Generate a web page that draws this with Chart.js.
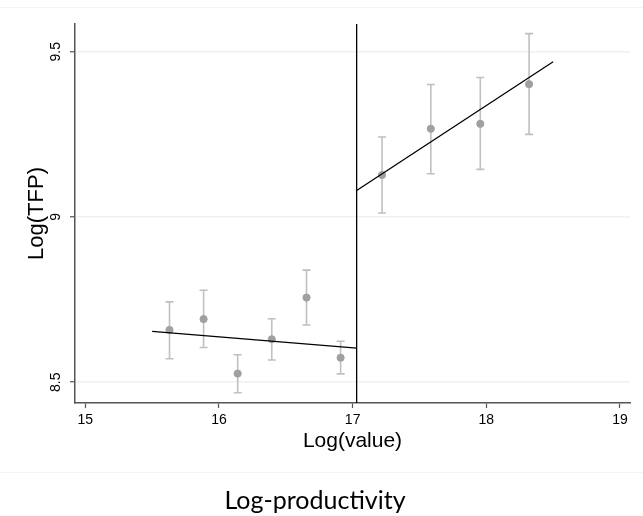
<!DOCTYPE html>
<html>
<head>
<meta charset="utf-8">
<script src="https://cdn.jsdelivr.net/npm/chart.js@4.4.0/dist/chart.umd.min.js"></script>
<style>
  html, body { margin: 0; padding: 0; background: #fff; }
  #wrap { width: 643px; height: 516px; }
</style>
</head>
<body>
<div id="wrap"><canvas id="rd"></canvas></div>
<script>
document.addEventListener('DOMContentLoaded', function(){

  // binned means with 95% intervals
  const binX  = [15.63, 15.885, 16.14, 16.395, 16.655, 16.91, 17.22, 17.585, 17.955, 18.32];
  const binY  = [8.658, 8.691, 8.526, 8.630, 8.756, 8.574, 9.127, 9.267, 9.282, 9.402];
  const binLo = [8.571, 8.605, 8.468, 8.567, 8.673, 8.525, 9.012, 9.131, 9.144, 9.250];
  const binHi = [8.743, 8.778, 8.583, 8.692, 8.839, 8.624, 9.242, 9.401, 9.422, 9.555];

  // linear fits each side of the cutoff
  const cutoff = 17.03;
  const fitLeftX  = [15.50, 17.03];
  const fitLeftY  = [8.654, 8.603];
  const fitRightX = [17.03, 18.50];
  const fitRightY = [9.080, 9.470];

  const xTicks = [15, 16, 17, 18, 19];
  const yTicks = [8.5, 9, 9.5];
  const xMin = 14.923, xMax = 19.075;
  const yMin = 8.437, yMax = 9.584;

  const pts = binX.map((x, i) => ({x: x, y: binY[i]}));
  const line = (xs, ys) => xs.map((x, i) => ({x: x, y: ys[i]}));

  // error bars + rotated y labels
  const extras = {
    id: 'extras',
    beforeDatasetsDraw(chart){
      const ctx = chart.ctx, xs = chart.scales.x, ys = chart.scales.y;
      ctx.save();
      ctx.strokeStyle = '#c0c0c0';
      ctx.lineWidth = 1.6;
      binX.forEach((x, i) => {
        const px = xs.getPixelForValue(x);
        const top = ys.getPixelForValue(binHi[i]);
        const bot = ys.getPixelForValue(binLo[i]);
        ctx.beginPath();
        ctx.moveTo(px, top); ctx.lineTo(px, bot);
        ctx.moveTo(px - 4, top); ctx.lineTo(px + 4, top);
        ctx.moveTo(px - 4, bot); ctx.lineTo(px + 4, bot);
        ctx.stroke();
      });
      ctx.restore();
    },
    afterDraw(chart){
      const ctx = chart.ctx, ys = chart.scales.y;
      ctx.save();
      ctx.fillStyle = '#000';
      ctx.font = '14px "Liberation Sans", Arial, sans-serif';
      ctx.textAlign = 'center';
      ctx.textBaseline = 'middle';
      yTicks.forEach(v => {
        const py = ys.getPixelForValue(v);
        ctx.save();
        ctx.translate(56, py);
        ctx.rotate(-Math.PI / 2);
        ctx.fillText(String(v), 0, 0);
        ctx.restore();
      });
      // faint frame lines of the graph region
      ctx.strokeStyle = '#f2f4f4';
      ctx.lineWidth = 1;
      ctx.beginPath();
      ctx.moveTo(0, 7.5); ctx.lineTo(643, 7.5);
      ctx.moveTo(0, 472.5); ctx.lineTo(643, 472.5);
      ctx.stroke();
      ctx.restore();
    }
  };

  const config = {
    type: 'scatter',
    data: {
      datasets: [
        {
          label: 'bins',
          data: pts,
          backgroundColor: '#a0a0a0',
          borderColor: '#a0a0a0',
          pointRadius: 3.6,
          order: 1
        },
        {
          label: 'fit left',
          type: 'line',
          data: line(fitLeftX, fitLeftY),
          borderColor: '#000',
          borderWidth: 1.3,
          pointRadius: 0,
          fill: false,
          order: 0
        },
        {
          label: 'fit right',
          type: 'line',
          data: line(fitRightX, fitRightY),
          borderColor: '#000',
          borderWidth: 1.3,
          pointRadius: 0,
          fill: false,
          order: 0
        },
        {
          label: 'cutoff',
          type: 'line',
          data: [{x: cutoff, y: yMin}, {x: cutoff, y: yMax}],
          borderColor: '#000',
          borderWidth: 1.3,
          pointRadius: 0,
          fill: false,
          order: 0
        }
      ]
    },
    options: {
      responsive: true,
      maintainAspectRatio: false,
      animation: false,
      layout: { padding: { top: 24, right: 13, left: 0, bottom: 0 } },
      plugins: {
        legend: { display: false },
        tooltip: { enabled: false },
        title: {
          display: true,
          position: 'bottom',
          text: 'Log-productivity',
          color: '#000',
          font: { family: 'Lato, "Open Sans", sans-serif', size: 25, weight: 'normal' },
          padding: { top: 21, bottom: 0 }
        }
      },
      scales: {
        x: {
          type: 'linear',
          min: xMin,
          max: xMax,
          afterBuildTicks: s => { s.ticks = xTicks.map(v => ({value: v})); },
          afterFit: s => { s.height = 62; },
          grid: { display: true, drawOnChartArea: false, color: '#555', tickLength: 5, tickWidth: 1.2 },
          border: { color: '#555', width: 1.5 },
          ticks: {
            color: '#000',
            padding: 4,
            maxRotation: 0,
            font: { family: '"Liberation Sans", Arial, sans-serif', size: 14 }
          },
          title: {
            display: true,
            text: 'Log(value)',
            color: '#000',
            font: { family: '"Liberation Sans", Arial, sans-serif', size: 21 },
            padding: { top: 0, bottom: 11 }
          }
        },
        y: {
          type: 'linear',
          min: yMin,
          max: yMax,
          afterBuildTicks: s => { s.ticks = yTicks.map(v => ({value: v})); },
          afterFit: s => { s.width = 75; },
          grid: { color: '#edf2f2', lineWidth: 1.5, tickColor: '#555', tickLength: 5, tickWidth: 1.2 },
          border: { color: '#555', width: 1.5 },
          ticks: {
            color: 'rgba(0,0,0,0)',
            font: { family: '"Liberation Sans", Arial, sans-serif', size: 14 }
          },
          title: {
            display: true,
            text: 'Log(TFP)',
            color: '#000',
            font: { family: '"Liberation Sans", Arial, sans-serif', size: 22 },
            padding: { top: 24, bottom: 0 }
          }
        }
      }
    },
    plugins: [extras]
  };

  var chart = new Chart(document.getElementById('rd'), config);
  console.log(chart.chartArea);

})
</script>
</body>
</html>
